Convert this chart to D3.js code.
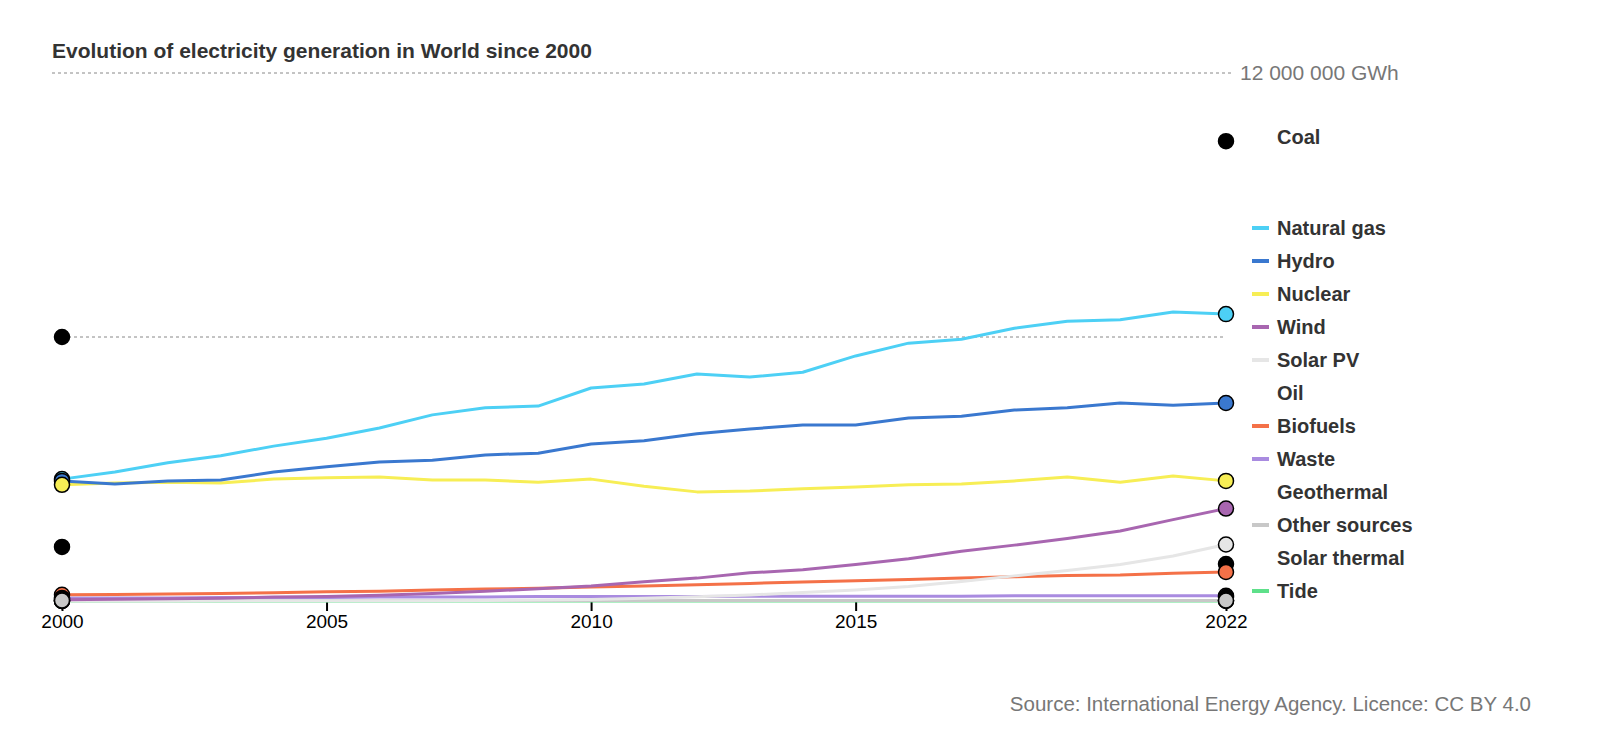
<!DOCTYPE html>
<html><head><meta charset="utf-8">
<script src="https://cdn.jsdelivr.net/npm/d3@7"></script>
<style>body{margin:0;background:#fff;font-family:"Liberation Sans",Arial,sans-serif}</style>
</head><body><svg id="c" width="1600" height="745"></svg>
<script>
const years = d3.range(2000, 2023);
const tickYears = [2000, 2005, 2010, 2015, 2022];
// values in million GWh
const naturalGas = [2.77,2.93,3.14,3.30,3.52,3.70,3.93,4.23,4.39,4.43,4.84,4.93,5.16,5.09,5.20,5.57,5.86,5.95,6.20,6.36,6.39,6.57,6.52];
const hydro = [2.73,2.66,2.73,2.75,2.93,3.05,3.16,3.20,3.32,3.36,3.57,3.64,3.80,3.91,4.00,4.00,4.16,4.20,4.34,4.39,4.50,4.45,4.50];
const nuclear = [2.64,2.68,2.70,2.68,2.77,2.80,2.82,2.75,2.75,2.70,2.77,2.61,2.48,2.50,2.55,2.59,2.64,2.66,2.73,2.82,2.70,2.84,2.73];
const wind = [0.03,0.04,0.05,0.06,0.09,0.10,0.13,0.17,0.22,0.28,0.34,0.44,0.52,0.64,0.71,0.83,0.96,1.13,1.27,1.42,1.59,1.85,2.10];
const solarPV = [0.001,0.002,0.002,0.003,0.003,0.004,0.006,0.008,0.012,0.020,0.032,0.063,0.098,0.136,0.191,0.250,0.328,0.443,0.571,0.691,0.831,1.023,1.284];
const biofuels = [0.14,0.15,0.16,0.17,0.19,0.21,0.22,0.25,0.27,0.29,0.32,0.34,0.37,0.40,0.43,0.46,0.49,0.52,0.55,0.58,0.59,0.63,0.66];
const waste = [0.07,0.07,0.07,0.08,0.08,0.08,0.09,0.09,0.09,0.10,0.10,0.10,0.10,0.11,0.11,0.11,0.11,0.11,0.12,0.12,0.12,0.12,0.12];
const otherSources = [0.01,0.01,0.01,0.01,0.01,0.01,0.01,0.01,0.01,0.01,0.01,0.01,0.01,0.01,0.01,0.01,0.01,0.01,0.01,0.01,0.01,0.01,0.01];
const tide = [0.0006,0.0006,0.0006,0.0006,0.0006,0.0006,0.0006,0.0006,0.0006,0.0006,0.0006,0.0008,0.0010,0.0010,0.0010,0.0010,0.0010,0.0010,0.0010,0.0010,0.0010,0.0010,0.0010];
// endpoint-only series (2000, 2022)
const coal = [6.0, 10.45];
const oil = [1.23, 0.84];
const geothermal = [0.05, 0.09];
const solarThermal = [0.001, 0.013];

const series = [
  {name:"Coal", vals:coal, color:"#000", line:false},
  {name:"Natural gas", vals:naturalGas, color:"#4dd0f5", line:true},
  {name:"Hydro", vals:hydro, color:"#3a78cf", line:true},
  {name:"Nuclear", vals:nuclear, color:"#f7ee55", line:true},
  {name:"Wind", vals:wind, color:"#a866b0", line:true},
  {name:"Solar PV", vals:solarPV, color:"#e6e6e6", line:true},
  {name:"Oil", vals:oil, color:"#000", line:false},
  {name:"Biofuels", vals:biofuels, color:"#f47148", line:true},
  {name:"Waste", vals:waste, color:"#a98be0", line:true},
  {name:"Geothermal", vals:geothermal, color:"#000", line:false},
  {name:"Other sources", vals:otherSources, color:"#c8c8c8", line:true},
  {name:"Solar thermal", vals:solarThermal, color:"#000", line:false},
  {name:"Tide", vals:tide, color:"#5ee08a", line:true}
];
const legendY = [137,228,261,294,327,360,393,426,459,492,525,558,591];

const svg = d3.select("#c");
const x = d3.scaleLinear().domain([2000,2022]).range([62,1226]);
const y = d3.scaleLinear().domain([0,12]).range([601,73]);
const F = "Liberation Sans, Arial, sans-serif";

svg.append("text").attr("x",52).attr("y",58).attr("font-size",21).attr("font-weight","bold").attr("fill","#333")
  .text("Evolution of electricity generation in World since 2000");

svg.append("line").attr("x1",52).attr("x2",1233).attr("y1",y(12)).attr("y2",y(12))
  .attr("stroke","#888").attr("stroke-dasharray","3,3");
svg.append("text").attr("x",1240).attr("y",y(12)+7).attr("font-size",21).attr("fill","#777").text("12 000 000 GWh");
svg.append("line").attr("x1",x(2000)).attr("x2",x(2022)).attr("y1",y(6)).attr("y2",y(6))
  .attr("stroke","#888").attr("stroke-dasharray","3,3");

const ax = svg.append("g").attr("transform",`translate(0,${y(0)})`)
  .call(d3.axisBottom(x).tickValues(tickYears).tickFormat(d3.format("d")).tickSize(10).tickPadding(4).tickSizeOuter(0));
ax.select(".domain").attr("stroke","#000").attr("stroke-width",1.5).attr("d",`M${x(2000)-8},0H${x(2022)+8}`);
ax.selectAll(".tick line").attr("stroke","#000").attr("stroke-width",2);
ax.selectAll("text").attr("font-size",19).attr("fill","#000").attr("font-family",F);

const line = d3.line().x((d,i)=>x(years[i])).y(d=>y(d));
series.slice().reverse().filter(s=>s.line).forEach(s=>{
  svg.append("path").datum(s.vals).attr("d",line).attr("fill","none").attr("stroke",s.color)
    .attr("stroke-width",3).attr("stroke-linejoin","round");
});
const dotOrder = series.filter(s=>s.name!=="Other sources").concat(series.filter(s=>s.name==="Other sources"));
dotOrder.forEach(s=>{
  const pts = [[2000,s.vals[0]],[2022,s.vals[s.vals.length-1]]];
  svg.selectAll(null).data(pts).enter().append("circle")
    .attr("cx",d=>x(d[0])).attr("cy",d=>y(d[1])).attr("r",7.5)
    .attr("fill",s.color).attr("stroke","#000").attr("stroke-width",1.5);
});

series.forEach((s,i)=>{
  const ly = legendY[i];
  if (s.line) svg.append("line").attr("x1",1252).attr("x2",1269).attr("y1",ly).attr("y2",ly)
      .attr("stroke",s.color).attr("stroke-width",4);
  svg.append("text").attr("x",1277).attr("y",ly+7).attr("font-size",20).attr("font-weight","bold").attr("fill","#333").text(s.name);
});

svg.append("text").attr("x",1531).attr("y",711).attr("text-anchor","end").attr("font-size",20.5).attr("fill","#777")
  .text("Source: International Energy Agency. Licence: CC BY 4.0");
</script></body></html>
